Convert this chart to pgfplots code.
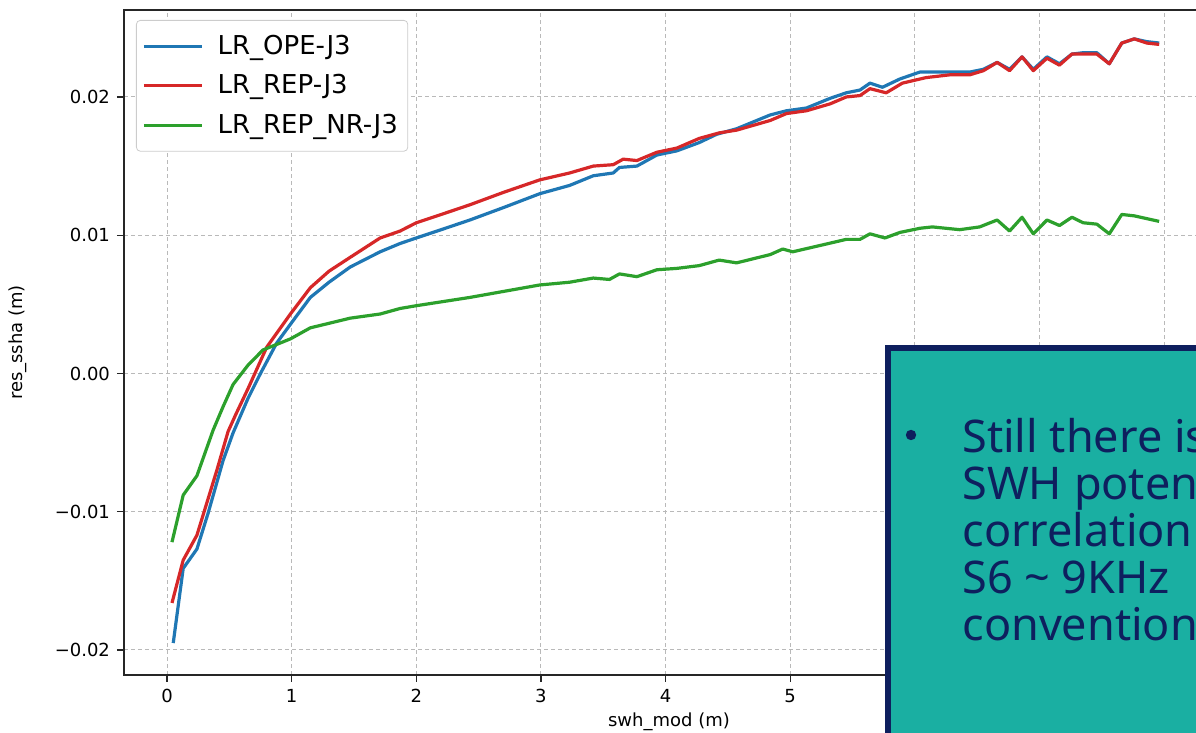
\documentclass[border=0pt]{standalone}
\usepackage{pgfplots}
\pgfplotsset{compat=1.18}
\usepackage{fontspec}
\setmainfont{DejaVu Sans}
\newfontfamily\boxfont{Noto Sans}
\definecolor{mplblue}{HTML}{1F77B4}
\definecolor{mplred}{HTML}{D62728}
\definecolor{mplgreen}{HTML}{2CA02C}
\definecolor{boxteal}{HTML}{1AAFA2}
\definecolor{boxnavy}{HTML}{0E1F5E}

\begin{document}
\begin{tikzpicture}
\useasboundingbox (0,0) rectangle (598pt,366.5pt);
\clip (0,0) rectangle (598pt,366.5pt);
\begin{axis}[
    scale only axis,
    width=545pt, height=332.5pt,
    at={(62pt,29pt)}, anchor=south west,
    xmin=-0.345, xmax=8.4,
    ymin=-0.02181, ymax=0.02629,
    xtick={0,...,8}, xticklabels={0,1,2,3,4,5,6,7,8},
    ytick={-0.02,-0.01,0,0.01,0.02},
    yticklabels={−0.02,−0.01,0.00,0.01,0.02},
    xtick pos=bottom, ytick pos=left,
    tick align=outside, major tick length=3.5pt,
    tick style={black!85, line width=0.6pt},
    ticklabel style={font=\fontsize{9}{11}\selectfont},
    grid=major,
    major grid style={gray!55, dash pattern=on 2pt off 1.5pt, line width=0.5pt},
    axis line style={black!85, line width=0.7pt},
    xlabel={swh\_mod (m)}, ylabel={res\_ssha (m)},
    label style={font=\fontsize{9}{11}\selectfont},
    xlabel style={at={(axis description cs:0.5,-0.0707)}, anchor=center},
    ylabel style={at={(axis description cs:-0.0972,0.5)}, anchor=center},
    legend style={at={(0.011,0.985)}, anchor=north west,
        draw=black!20, rounded corners=2pt, fill=white,
        font=\fontsize{13}{15}\selectfont,
        inner xsep=3pt, inner ysep=6.5pt, row sep=6.5pt,
        nodes={inner ysep=1pt}},
    legend cell align=left,
    legend image code/.code={\draw[#1] (0pt,0pt) -- (29pt,0pt); \path (34pt,0pt);},
    every axis plot/.append style={line width=1.6pt, line join=round},
]
% LR_OPE-J3
\addplot[mplblue] coordinates {
(0.05,-0.0195) (0.13,-0.0141) (0.24,-0.0127) (0.33,-0.0101) (0.45,-0.0063)
(0.53,-0.0043) (0.65,-0.0018) (0.75,0.0000) (0.88,0.0022) (1.01,0.0038)
(1.15,0.0055) (1.30,0.0066) (1.47,0.0077) (1.71,0.0088) (1.87,0.0094)
(2.00,0.0098) (2.20,0.0104) (2.43,0.0111) (2.70,0.0120) (2.99,0.0130)
(3.23,0.0136) (3.42,0.0143) (3.58,0.0145) (3.63,0.0149) (3.77,0.0150)
(3.93,0.0158) (4.09,0.0161) (4.27,0.0167) (4.41,0.0173) (4.57,0.0177)
(4.84,0.0187) (4.97,0.0190) (5.13,0.0192) (5.32,0.0199) (5.45,0.0203)
(5.56,0.0205) (5.64,0.0210) (5.74,0.0207) (5.88,0.0213) (6.04,0.0218)
(6.28,0.0218) (6.44,0.0218) (6.55,0.0220) (6.66,0.0225) (6.76,0.0220)
(6.86,0.0229) (6.95,0.0220) (7.06,0.0229) (7.16,0.0224) (7.26,0.0231)
(7.35,0.0232) (7.46,0.0232) (7.56,0.0224) (7.66,0.0239) (7.76,0.0242)
(7.86,0.0240) (7.96,0.0239)
};
\addlegendentry{LR\_OPE-J3}
% LR_REP-J3
\addplot[mplred] coordinates {
(0.04,-0.0166) (0.13,-0.0135) (0.24,-0.0117) (0.40,-0.0070) (0.49,-0.0042)
(0.55,-0.0030) (0.65,-0.0011) (0.80,0.0019) (0.99,0.0043) (1.15,0.0062)
(1.30,0.0074) (1.47,0.0084) (1.71,0.0098) (1.87,0.0103) (2.00,0.0109)
(2.20,0.0115) (2.43,0.0122) (2.70,0.0131) (2.99,0.0140) (3.23,0.0145)
(3.42,0.0150) (3.58,0.0151) (3.66,0.0155) (3.77,0.0154) (3.93,0.0160)
(4.09,0.0163) (4.27,0.0170) (4.43,0.0174) (4.57,0.0176) (4.84,0.0183)
(4.97,0.0188) (5.13,0.0190) (5.32,0.0195) (5.45,0.0200) (5.56,0.0201)
(5.64,0.0206) (5.77,0.0203) (5.90,0.0210) (6.09,0.0214) (6.28,0.0216)
(6.44,0.0216) (6.55,0.0219) (6.66,0.0225) (6.76,0.0219) (6.86,0.0229)
(6.95,0.0219) (7.06,0.0228) (7.16,0.0223) (7.26,0.0231) (7.35,0.0231)
(7.46,0.0231) (7.56,0.0224) (7.66,0.0239) (7.76,0.0242) (7.86,0.0239)
(7.96,0.0238)
};
\addlegendentry{LR\_REP-J3}
% LR_REP_NR-J3
\addplot[mplgreen] coordinates {
(0.04,-0.0122) (0.13,-0.0088) (0.24,-0.0074) (0.37,-0.0041) (0.45,-0.0024)
(0.53,-0.0008) (0.65,0.0006) (0.77,0.0017) (0.99,0.0025) (1.15,0.0033)
(1.47,0.0040) (1.71,0.0043) (1.87,0.0047) (2.00,0.0049) (2.43,0.0055)
(2.99,0.0064) (3.23,0.0066) (3.42,0.0069) (3.55,0.0068) (3.63,0.0072)
(3.77,0.0070) (3.93,0.0075) (4.09,0.0076) (4.27,0.0078) (4.43,0.0082)
(4.57,0.0080) (4.84,0.0086) (4.94,0.0090) (5.02,0.0088) (5.26,0.0093)
(5.45,0.0097) (5.56,0.0097) (5.64,0.0101) (5.76,0.0098) (5.88,0.0102)
(6.04,0.0105) (6.14,0.0106) (6.36,0.0104) (6.52,0.0106) (6.66,0.0111)
(6.76,0.0103) (6.86,0.0113) (6.95,0.0101) (7.06,0.0111) (7.16,0.0107)
(7.26,0.0113) (7.35,0.0109) (7.46,0.0108) (7.56,0.0101) (7.66,0.0115)
(7.76,0.0114) (7.86,0.0112) (7.96,0.0110)
};
\addlegendentry{LR\_REP\_NR-J3}
\end{axis}
% slide text box laid over the chart
\fill[boxteal] (442.5pt,-5pt) rectangle (620pt,194pt);
\draw[boxnavy, line width=3pt] (444pt,-10pt) -- (444pt,192.5pt) -- (620pt,192.5pt);
\fill[boxnavy] (455.5pt,149pt) circle (2.6pt);
\begin{scope}[every node/.style={anchor=base west, inner sep=0pt, text=boxnavy,
    font=\boxfont\fontsize{22.5}{23.5}\selectfont}]
\node at (481pt,140pt) {Still there is a};
\node at (481pt,116.5pt) {SWH potential};
\node at (481pt,93pt) {correlation};
\node at (481pt,69.5pt) {S6 \textasciitilde{} 9KHz};
\node at (481pt,46pt) {conventional};
\end{scope}
\end{tikzpicture}
\end{document}
